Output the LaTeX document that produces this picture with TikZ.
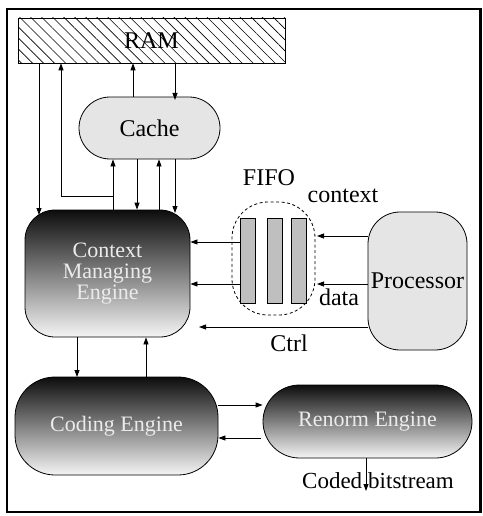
\documentclass[tikz,border=0pt]{standalone}
\usepackage{fontspec}
\setmainfont{Liberation Serif}
\usetikzlibrary{patterns.meta,arrows.meta}
\begin{document}
\begin{tikzpicture}[x=1pt,y=-1pt,
  arr/.style={draw=black,line width=0.8pt,-{Triangle[length=7pt,width=5pt]}},
  ln/.style={draw=black,line width=0.8pt},
  lbl/.style={inner sep=0pt,font=\fontsize{24}{26}\selectfont},
  engine/.style={draw=black,line width=0.8pt,top color=black!95,bottom color=black!4,
     text=black!8,inner sep=0pt,align=center,font=\fontsize{22}{24}\selectfont},
  lightbox/.style={draw=black,line width=0.8pt,fill=black!10,inner sep=0pt,
     font=\fontsize{24}{26}\selectfont},
  bar/.style={draw=black,line width=0.8pt,fill=black!25,minimum width=15pt,minimum height=85pt,inner sep=0pt}
]
\useasboundingbox (0,0) rectangle (482,516);
\draw[line width=2.4pt] (7,9) rectangle (480.5,512);

% RAM
\node[draw=black,line width=0.8pt,pattern={Lines[angle=-45,distance=7.8pt,line width=0.6pt]},
  minimum width=267pt,minimum height=45pt,inner sep=0pt] (ram) at (151.5,40.5) {};
\node[lbl] (ramt) at (151.5,40.5) {RAM};

% Cache
\node[lightbox,rounded corners=31pt,minimum width=141pt,minimum height=62pt] (cache) at (149.5,128) {Cache};

% Context Managing Engine
\node[engine,rounded corners=30pt,minimum width=165pt,minimum height=127pt] (cme) at (107.5,273.5)
  {Context\\[-3pt]Managing\\[-3pt]Engine};

% FIFO
\node[draw=black,line width=0.8pt,dashed,dash pattern=on 3pt off 2.5pt,rounded corners=36pt,
  minimum width=83pt,minimum height=113pt] (fifo) at (273.5,258.5) {};
\node[bar] (b1) at (247.5,260.5) {};
\node[bar] (b2) at (274.5,260.5) {};
\node[bar] (b3) at (298.5,260.5) {};
\node[lbl] (fifot) at (269,178) {FIFO};
\node[lbl] (ctx) at (343,196) {context};
\node[lbl] (data) at (339,297) {data};

% Processor
\node[lightbox,rounded corners=32pt,minimum width=99pt,minimum height=138pt] (proc) at (417.5,281) {Processor};
\node[lbl] (ctrl) at (289,343) {Ctrl};

% Coding Engine / Renorm Engine
\node[engine,rounded corners=40pt,minimum width=203pt,minimum height=98pt] (code) at (116.5,426) {Coding Engine};
\node[engine,rounded corners=36.5pt,minimum width=209pt,minimum height=73pt] (ren) at (367.5,421.5) {Renorm Engine};
\node[lbl,font=\fontsize{23}{25}\selectfont] (cbs) at (378,481) {Coded\hspace{6pt}bitstream};
\coordinate (out) at (366,491);

% RAM <-> Cache
\draw[arr] (cache.north -| 133,0) -- (ram.south -| 133,0);
\draw[arr] (ram.south -| 175,0) -- (175,100);

% RAM -> CME (left)
\draw[arr] (ram.south -| 39,0) -- (39,215);
% CME -> Cache and RAM
\draw[arr] (cme.north -| 113,0) -- (cache.south -| 113,0);
\draw[arr] (113,196) -- (61,196) -- (ram.south -| 61,0);
% Cache <-> CME
\draw[arr] (cache.south -| 137,0) -- (cme.north -| 137,0);
\draw[arr] (cme.north -| 159,0) -- (cache.south -| 159,0);
\draw[arr] (cache.south -| 175,0) -- (175,213);

% FIFO -> CME
\draw[arr] (b1.west |- 0,242) -- (cme.east |- 0,242);
\draw[arr] (b1.west |- 0,284) -- (cme.east |- 0,284);
% Processor -> FIFO
\draw[arr] (proc.west |- 0,236) -- (317,236);
\draw[arr] (proc.west |- 0,284) -- (317,284);
% Ctrl
\draw[arr] (proc.west |- 0,327) -- (199,327);

% CME <-> Coding
\draw[arr] (cme.south -| 77,0) -- (77,377);
\draw[arr] (146,380) -- (cme.south -| 146,0);

% Coding <-> Renorm
\draw[arr] (code.east |- 0,405) -- (ren.west |- 0,405);
\draw[arr] (261,438) -- (code.east |- 0,438);
% output
\draw[arr] (ren.south -| out) -- (out);
\end{tikzpicture}
\end{document}
